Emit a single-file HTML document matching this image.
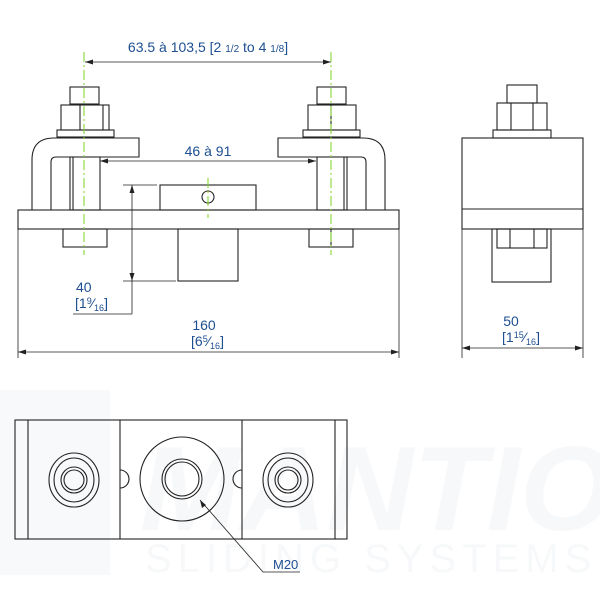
<!DOCTYPE html>
<html><head><meta charset="utf-8"><style>
html,body{margin:0;padding:0;background:#fff;width:600px;height:600px;overflow:hidden}
svg{display:block}
text{font-family:"Liberation Sans",sans-serif;fill:#1d4f91}
</style></head><body>
<svg width="600" height="600" viewBox="0 0 600 600" xmlns="http://www.w3.org/2000/svg">
<g opacity="0.045">
<rect x="0" y="390" width="110" height="185" fill="#4a6f9a"/>
<text x="140" y="530" font-size="120" font-weight="bold" font-style="italic" style="fill:#4a6f9a">MANTION</text>
<text x="145" y="572" font-size="40" style="fill:#4a6f9a" letter-spacing="6">SLIDING  SYSTEMS</text>
</g>
<g fill="none" stroke="#222" stroke-width="1.1">
<rect x="70" y="87" width="29" height="17"/>
<rect x="61" y="105" width="48" height="25"/>
<line x1="80" y1="105" x2="80" y2="130"/><line x1="103" y1="105" x2="103" y2="130"/>
<rect x="57" y="130" width="57" height="7"/>
<path d="M32 210 V160 Q32 138 54 138 H139 V157 H56 Q51 157 51 162 V210"/>
<rect x="70" y="157" width="30" height="53"/><line x1="73" y1="157" x2="73" y2="210"/>
<rect x="63" y="229" width="44" height="18"/>
<rect x="317" y="87" width="29" height="17"/>
<rect x="308" y="105" width="48" height="25"/>
<line x1="331" y1="105" x2="331" y2="130"/>
<rect x="303" y="130" width="57" height="7"/>
<path d="M385 210 V160 Q385 138 363 138 H278 V157 H361 Q366 157 366 162 V210"/>
<rect x="317" y="157" width="30" height="53"/><line x1="344" y1="157" x2="344" y2="210"/>
<rect x="309" y="229" width="44" height="18"/><line x1="331" y1="229" x2="331" y2="247"/>
<rect x="18" y="210" width="381" height="19"/>
<rect x="160" y="185" width="96" height="25"/>
<circle cx="208" cy="197" r="6"/>
<rect x="178" y="229" width="60" height="52"/>
<rect x="507" y="85" width="30" height="18"/>
<rect x="497" y="103" width="50" height="27"/>
<line x1="511" y1="103" x2="511" y2="130"/><line x1="533" y1="103" x2="533" y2="130"/>
<rect x="493" y="130" width="58" height="8"/>
<rect x="462" y="138" width="121" height="91"/>
<line x1="462" y1="209" x2="583" y2="209"/>
<rect x="492" y="229" width="59" height="53"/>
<rect x="497" y="229" width="50" height="19"/>
<line x1="510" y1="229" x2="510" y2="248"/><line x1="534" y1="229" x2="534" y2="248"/>
<rect x="15" y="420" width="332" height="119"/>
<line x1="28" y1="420" x2="28" y2="539"/><line x1="120" y1="420" x2="120" y2="539"/>
<line x1="242" y1="420" x2="242" y2="539"/><line x1="335" y1="420" x2="335" y2="539"/>
<path d="M120 470 A9 9 0 0 1 120 488"/><path d="M242 470 A9 9 0 0 0 242 488"/>
<circle cx="182" cy="479" r="42"/><circle cx="182" cy="479" r="20"/><circle cx="182" cy="479" r="17"/>
<ellipse cx="74" cy="480" rx="25" ry="27"/><ellipse cx="74" cy="480" rx="20" ry="22"/>
<circle cx="74" cy="480" r="13"/><circle cx="74" cy="480" r="10"/>
<ellipse cx="288" cy="480" rx="25" ry="27"/><ellipse cx="288" cy="480" rx="20" ry="22"/>
<circle cx="288" cy="480" r="13"/><circle cx="288" cy="480" r="10"/>
</g>
<g stroke="#222" stroke-width="0.8" fill="none">
<line x1="85" y1="62" x2="331" y2="62"/>
<line x1="100" y1="161" x2="316" y2="161"/>
<line x1="132" y1="185" x2="132" y2="314"/>
<line x1="123" y1="185" x2="157" y2="185"/><line x1="123" y1="281" x2="176" y2="281"/>
<line x1="73" y1="314" x2="132" y2="314"/>
<line x1="18" y1="229" x2="18" y2="358"/><line x1="399" y1="229" x2="399" y2="358"/>
<line x1="18" y1="352" x2="399" y2="352"/>
<line x1="462" y1="229" x2="462" y2="358"/><line x1="583" y1="229" x2="583" y2="358"/>
<line x1="462" y1="348" x2="583" y2="348"/>
<polyline points="200,500 263,572 300,572"/>
</g>
<g fill="#222">
<path d="M85 62 l8 -2.5 v5z"/><path d="M331 62 l-8 -2.5 v5z"/>
<path d="M100 161 l8 -2.5 v5z"/><path d="M316 161 l-8 -2.5 v5z"/>
<path d="M132 185 l-2.5 8 h5z"/><path d="M132 281 l-2.5 -8 h5z"/>
<path d="M18 352 l8 -2.5 v5z"/><path d="M399 352 l-8 -2.5 v5z"/>
<path d="M462 348 l8 -2.5 v5z"/><path d="M583 348 l-8 -2.5 v5z"/>
<path d="M200 500 l2 8 l4 -3z"/>
</g>
<g stroke="#7ed321" stroke-width="1" stroke-dasharray="10,3,2,3">
<line x1="84" y1="52" x2="84" y2="255"/><line x1="331" y1="52" x2="331" y2="255"/>
<line x1="208" y1="178" x2="208" y2="218"/>
</g>
<text x="208" y="52" font-size="14" text-anchor="middle">63.5 à 103,5 [2 <tspan font-size="10">1/2</tspan> to 4 <tspan font-size="10">1/8</tspan>]</text>
<text x="208" y="156" font-size="14" text-anchor="middle">46 à 91</text>
<text x="76" y="292" font-size="14">40</text>
<text x="75" y="308" font-size="14">[1<tspan font-size="9" dy="-4">9</tspan><tspan dy="4">⁄</tspan><tspan font-size="9" dy="3">16</tspan><tspan dy="-3">]</tspan></text>
<text x="204" y="330" font-size="14" text-anchor="middle">160</text>
<text x="191" y="346" font-size="14">[6<tspan font-size="9" dy="-4">5</tspan><tspan dy="4">⁄</tspan><tspan font-size="9" dy="3">16</tspan><tspan dy="-3">]</tspan></text>
<text x="511" y="326" font-size="14" text-anchor="middle">50</text>
<text x="502" y="342" font-size="14">[1<tspan font-size="9" dy="-4">15</tspan><tspan dy="4">⁄</tspan><tspan font-size="9" dy="3">16</tspan><tspan dy="-3">]</tspan></text>
<text x="273" y="569" font-size="13">M20</text>
</svg>
</body></html>
